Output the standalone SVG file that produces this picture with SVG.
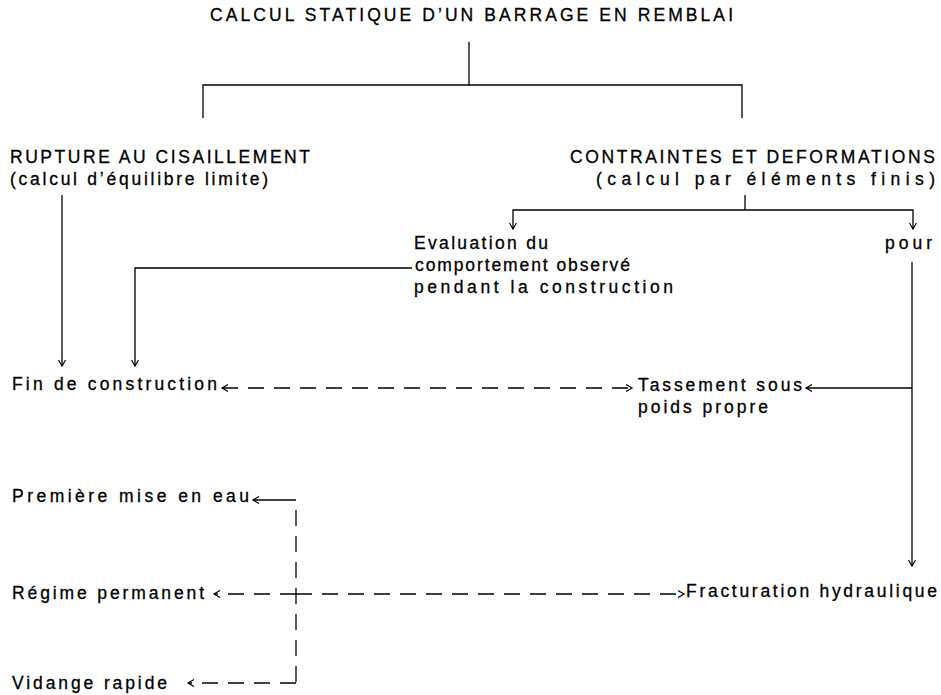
<svg xmlns="http://www.w3.org/2000/svg" width="941" height="695" viewBox="0 0 941 695">
<defs>
<marker id="ah" markerUnits="userSpaceOnUse" markerWidth="10" markerHeight="10" refX="7" refY="4" orient="auto-start-reverse">
<path d="M1,0.5 L7,4 L1,7.5" fill="none" stroke="#000" stroke-width="1.2"/>
</marker>
</defs>
<style>
text{font-family:"Liberation Sans",Arial,sans-serif;font-size:17.5px;fill:#000;stroke:#000;stroke-width:0.3}
.ln{fill:none;stroke:#000;stroke-width:1.3}
.ds{fill:none;stroke:#000;stroke-width:1.3;stroke-dasharray:16 10}
</style>
<rect width="941" height="695" fill="#fff"/>
<g id="connectors">
<path class="ln" d="M469,42 V85"/>
<path class="ln" d="M203,118 V85 H742 V118"/>
<path class="ln" d="M62,195 V366" marker-end="url(#ah)"/>
<path class="ln" d="M745,195 V210"/>
<path class="ln" d="M513,229 V210 H913 V229" marker-start="url(#ah)" marker-end="url(#ah)"/>
<path class="ln" d="M412,268 H135 V366" marker-end="url(#ah)"/>
<path class="ln" d="M912,262 V566" marker-end="url(#ah)"/>
<path class="ln" d="M912,388 H806" marker-end="url(#ah)"/>
<path class="ds" d="M222,388 H632" marker-start="url(#ah)" marker-end="url(#ah)"/>
<path class="ln" d="M296,500 H253" marker-end="url(#ah)"/>
<path class="ds" d="M296,510 V682"/>
<path class="ds" d="M296,594 H214" marker-end="url(#ah)"/>
<path class="ds" d="M296,594 H684" marker-end="url(#ah)"/>
<path class="ds" d="M296,683 H188" marker-end="url(#ah)"/>
</g>
<g id="title"><text x="210" y="21" textLength="523" lengthAdjust="spacing">CALCUL STATIQUE D’UN BARRAGE EN REMBLAI</text></g>
<g id="rupture">
<text x="10" y="163" textLength="300" lengthAdjust="spacing">RUPTURE AU CISAILLEMENT</text>
<text x="10" y="185" textLength="258" lengthAdjust="spacing">(calcul d’équilibre limite)</text>
</g>
<g id="contraintes">
<text x="570" y="163" textLength="365" lengthAdjust="spacing">CONTRAINTES ET DEFORMATIONS</text>
<text x="596" y="185" textLength="339" lengthAdjust="spacing">(calcul par éléments finis)</text>
</g>
<g id="evaluation">
<text x="414" y="249" textLength="134" lengthAdjust="spacing">Evaluation du</text>
<text x="415" y="271" textLength="215" lengthAdjust="spacing">comportement observé</text>
<text x="414" y="293" textLength="259" lengthAdjust="spacing">pendant la construction</text>
</g>
<g id="pour"><text x="885" y="249" textLength="47" lengthAdjust="spacing">pour</text></g>
<g id="fin"><text x="12" y="390" textLength="205" lengthAdjust="spacing">Fin de construction</text></g>
<g id="tassement">
<text x="638" y="391" textLength="164" lengthAdjust="spacing">Tassement sous</text>
<text x="638" y="413" textLength="130" lengthAdjust="spacing">poids propre</text>
</g>
<g id="premiere"><text x="12" y="502" textLength="237" lengthAdjust="spacing">Première mise en eau</text></g>
<g id="regime"><text x="12" y="599" textLength="192" lengthAdjust="spacing">Régime permanent</text></g>
<g id="vidange"><text x="12" y="689" textLength="155" lengthAdjust="spacing">Vidange rapide</text></g>
<g id="fracturation"><text x="686" y="597" textLength="251" lengthAdjust="spacing">Fracturation hydraulique</text></g>
</svg>
